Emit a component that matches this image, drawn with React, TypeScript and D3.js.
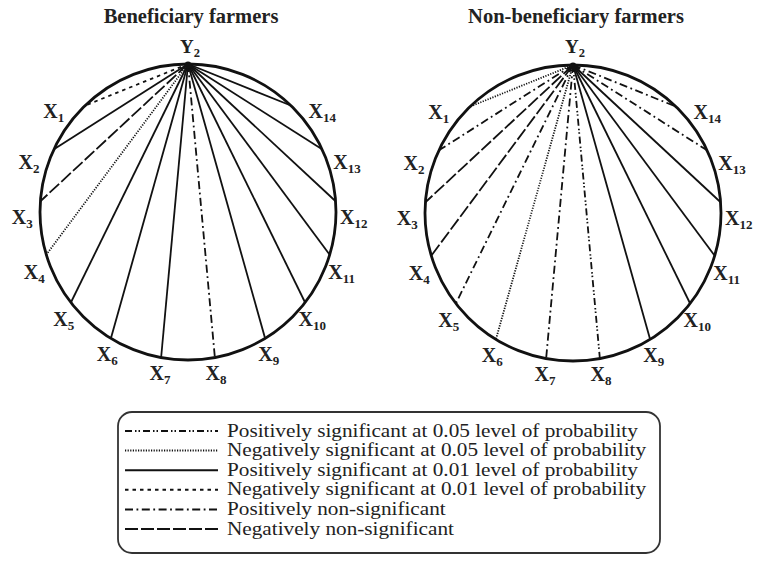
import React from "react";
import * as d3 from "d3";

const variables = ["1", "2", "3", "4", "5", "6", "7", "8", "9", "10", "11", "12", "13", "14"];
const beneficiary = ["neg01", "pos01", "negNS", "neg05", "pos01", "pos01", "pos01", "posNS", "pos01", "pos01", "pos01", "pos01", "pos01", "pos01"];
const nonBeneficiary = ["neg05", "posNS", "negNS", "negNS", "posNS", "neg05", "posNS", "pos05", "pos01", "pos01", "pos01", "pos01", "posNS", "posNS"];
const groupTitles = ["Beneficiary farmers", "Non-beneficiary farmers"];
const legendKeys = ["pos05", "neg05", "pos01", "neg01", "posNS", "negNS"];
const legendLabels = [
  "Positively significant at 0.05 level of probability",
  "Negatively significant at 0.05 level of probability",
  "Positively significant at 0.01 level of probability",
  "Negatively significant at 0.01 level of probability",
  "Positively non-significant",
  "Negatively non-significant",
];

// styles
const dashScale = d3
  .scaleOrdinal<string, string>()
  .domain(legendKeys)
  .range(["7,3,1.5,2,1.5,3", "1.2,1.4", "none", "3.5,4", "8,3.5,1.8,3.5", "13,3"]);

const FONT = "'Liberation Serif', 'Times New Roman', serif";
const R = 148;
const centers = [
  { cx: 188, cy: 212 },
  { cx: 573, cy: 213 },
];
const endAngle = d3.scaleLinear().domain([0, 13]).range([-44, -316]);
const labelAngle = d3.scaleLinear().domain([0, 13]).range([-54, -306]);
const rad = (deg: number) => (deg * Math.PI) / 180;

function Wheel({ cx, cy, codes, title }: { cx: number; cy: number; codes: string[]; title: string }) {
  const topX = cx;
  const topY = cy - R;
  return (
    <g>
      <text x={cx + 3} y={23} textAnchor="middle" fontFamily={FONT} fontWeight="bold" fontSize={20.5} fill="#222">
        {title}
      </text>
      <text x={cx + 2} y={53} textAnchor="middle" fontFamily={FONT} fontWeight="bold" fontSize={19} fill="#222">
        <tspan>Y</tspan>
        <tspan fontSize={12.5} dy={4}>2</tspan>
      </text>
      <circle cx={cx} cy={cy} r={R} fill="none" stroke="#111" strokeWidth={2.8} />
      {codes.map((c, i) => {
        const a = rad(endAngle(i));
        const x2 = cx + R * Math.sin(a);
        const y2 = cy - R * Math.cos(a);
        return (
          <line
            key={i}
            x1={topX}
            y1={topY}
            x2={x2}
            y2={y2}
            stroke="#111"
            strokeWidth={1.8}
            strokeDasharray={dashScale(c)}
          />
        );
      })}
      <circle cx={topX} cy={topY + 1} r={3.5} fill="#111" />
      {variables.map((v, i) => {
        const a = rad(labelAngle(i));
        const lr = R + 18;
        const x = cx + lr * Math.sin(a);
        const y = cy - lr * Math.cos(a);
        return (
          <text key={v} x={x} y={y + 4} textAnchor="middle" fontFamily={FONT} fontWeight="bold" fontSize={20} fill="#222">
            <tspan>X</tspan>
            <tspan fontSize={13} dy={4}>{v}</tspan>
          </text>
        );
      })}
    </g>
  );
}

export default function App() {
  const legendX = 118;
  const legendY = 412;
  const rowY = d3.scaleLinear().domain([0, 5]).range([431, 529]);
  return (
    <svg width={759} height={567} style={{ position: "absolute", left: 0, top: 0, background: "#fff" }}>
      <rect x={0} y={0} width={759} height={567} fill="#fff" />
      {centers.map((c, k) => (
        <Wheel key={k} cx={c.cx} cy={c.cy} codes={k === 0 ? beneficiary : nonBeneficiary} title={groupTitles[k]} />
      ))}
      <rect x={legendX} y={legendY} width={542} height={141} rx={14} ry={14} fill="none" stroke="#333" strokeWidth={1.8} />
      {legendKeys.map((k, i) => (
        <g key={k}>
          <line x1={125} x2={218} y1={rowY(i)} y2={rowY(i)} stroke="#111" strokeWidth={2} strokeDasharray={dashScale(k)} />
          <text
            transform={`translate(227, ${rowY(i) + 5.5}) scale(1.18, 1)`}
            fontFamily={FONT}
            fontSize={18}
            fill="#222"
          >
            {legendLabels[i]}
          </text>
        </g>
      ))}
    </svg>
  );
}
